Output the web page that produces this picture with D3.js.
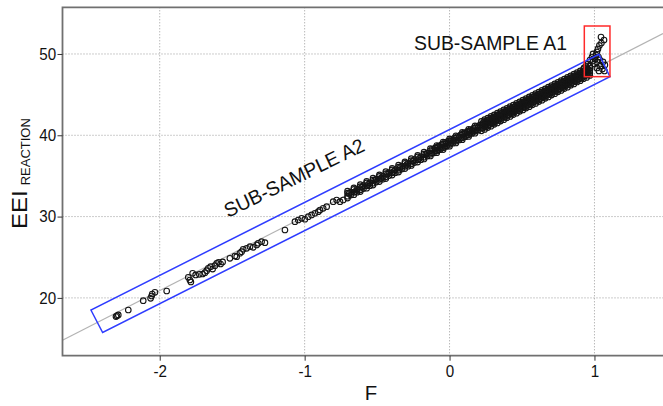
<!DOCTYPE html>
<html>
<head>
<meta charset="utf-8">
<script src="https://cdn.jsdelivr.net/npm/d3@7"></script>
<style>
  html, body { margin: 0; padding: 0; background: #fff; }
  svg { display: block; }
  text { font-family: "Liberation Sans", Arial, sans-serif; fill: #111; }
</style>
</head>
<body>
<svg id="chart" width="663" height="406"></svg>
<script>
// ---------------- data ----------------
const xTicks = [-2, -1, 0, 1];
const yTicks = [20, 30, 40, 50];
const xDomain = [-2.671, 1.473];
const yDomain = [12.89, 55.74];

// fitted reference line  EEI = intercept + slope * F
const lineIntercept = 39.1;
const lineSlope = 9.1;

// SUB-SAMPLE A2 (rotated blue box corners, [F, EEI])
const boxA2 = [[-2.475, 18.51], [-2.394, 15.74], [1.107, 47.21], [1.031, 49.96]];
// SUB-SAMPLE A1 (red box: F range, EEI range)
const boxA1F = [0.930, 1.107];
const boxA1E = [47.21, 53.44];

// sparse lower tail
const tailPoints = [
 [-2.302,17.7],[-2.295,17.8],[-2.286,17.9],[-2.217,18.51],[-2.114,19.66],[-2.063,19.95],[-2.056,20.23],
 [-2.052,20.48],[-2.033,20.69],[-1.952,20.85],[-1.803,22.53],[-1.792,22.2],[-1.785,21.96],[-1.773,23.03],
 [-1.752,22.82],[-1.727,22.9],[-1.704,22.94],[-1.688,23.1],[-1.676,23.35],[-1.665,23.64],[-1.649,23.84],
 [-1.635,23.55],[-1.619,23.96],[-1.607,24.26],[-1.594,24.38],[-1.58,24.17],[-1.566,24.42],[-1.516,24.87],
 [-1.481,25.15],[-1.469,25.07],[-1.447,25.49],[-1.435,25.68],[-1.424,25.98],[-1.4,26.1],[-1.377,26.3],
 [-1.355,26.22],[-1.331,26.51],[-1.32,26.72],[-1.297,26.91],[-1.274,26.79],[-1.136,28.35],[-1.067,29.37],
 [-1.044,29.58],[-1.021,29.79],[-0.998,29.67],[-0.975,29.99],[-0.952,30.2],[-0.929,30.41],[-0.906,30.6],
 [-0.894,30.81],[-0.872,31.02],[-0.848,31.22],[-0.803,31.83],[-0.779,32.04],[-0.756,31.83],[-0.734,32.04]
];

// medium-density part of the band
const midPoints = [
 [-0.704,32.50],[-0.704,32.88],[-0.693,32.85],[-0.682,32.64],[-0.682,33.00],[-0.660,32.98],[-0.660,33.34],
 [-0.649,33.10],[-0.638,33.00],[-0.638,33.35],[-0.616,33.30],[-0.616,33.68],[-0.605,33.62],[-0.594,33.44],
 [-0.594,33.80],[-0.572,33.78],[-0.572,34.14],[-0.561,33.95],[-0.550,33.80],[-0.550,34.15],[-0.528,34.10],
 [-0.528,34.48],[-0.517,34.45],[-0.506,34.24],[-0.506,34.60],[-0.484,34.58],[-0.484,34.94],[-0.473,34.72],
 [-0.462,34.60],[-0.462,34.95],[-0.440,34.90],[-0.440,35.28],[-0.429,35.22],[-0.418,35.04],[-0.418,35.40],
 [-0.396,35.38],[-0.396,35.74],[-0.385,35.55],[-0.374,35.40],[-0.374,35.75],[-0.352,35.70],[-0.352,36.08],
 [-0.341,36.05],[-0.330,35.84],[-0.330,36.20],[-0.308,36.18],[-0.308,36.54],[-0.297,36.35],[-0.286,36.20],
 [-0.286,36.55],[-0.264,36.50],[-0.264,36.88],[-0.253,36.82],[-0.242,36.64],[-0.242,37.00],[-0.220,36.98],
 [-0.220,37.34],[-0.209,37.15],[-0.198,37.00],[-0.198,37.35],[-0.176,37.30],[-0.176,37.68],[-0.165,37.62],
 [-0.154,37.44],[-0.154,37.80],
 [-0.704,32.28],[-0.704,33.12],[-0.660,32.70],[-0.660,33.52],[-0.616,33.08],[-0.616,33.92],[-0.572,33.50],
 [-0.572,34.32],[-0.528,33.88],[-0.528,34.72],[-0.484,34.30],[-0.484,35.12],[-0.440,34.68],[-0.440,35.52],
 [-0.396,35.10],[-0.396,35.92],[-0.352,35.48],[-0.352,36.32],[-0.308,35.90],[-0.308,36.72],[-0.264,36.28],
 [-0.264,37.12],[-0.220,36.70],[-0.220,37.52],[-0.176,37.08],[-0.176,37.92]
];

// dense part of the band (core)
const densePoints = [
 [-0.132,37.68],[-0.132,38.10],[-0.121,37.85],[-0.121,38.27],[-0.110,37.82],[-0.110,38.22],[-0.099,38.10],[-0.099,38.44],
 [-0.088,38.08],[-0.088,38.50],[-0.077,38.25],[-0.077,38.67],[-0.066,38.22],[-0.066,38.62],[-0.055,38.50],[-0.055,38.84],
 [-0.044,38.48],[-0.044,38.90],[-0.033,38.65],[-0.033,39.07],[-0.022,38.62],[-0.022,39.02],[-0.011,38.90],[-0.011,39.24],
 [0.000,38.88],[0.000,39.30],[0.011,39.05],[0.011,39.47],[0.022,39.02],[0.022,39.42],[0.033,39.30],[0.033,39.64],
 [0.044,39.28],[0.044,39.70],[0.055,39.45],[0.055,39.87],[0.066,39.42],[0.066,39.82],[0.077,39.70],[0.077,40.04],
 [0.088,39.68],[0.088,40.10],[0.099,39.85],[0.099,40.27],[0.110,39.82],[0.110,40.22],[0.121,40.10],[0.121,40.44],
 [0.132,40.08],[0.132,40.50],[0.143,40.25],[0.143,40.67],[0.154,40.22],[0.154,40.62],[0.165,40.50],[0.165,40.84],
 [0.176,40.48],[0.176,40.90],[0.187,40.65],[0.187,41.07],[0.198,40.62],[0.198,41.02],[0.209,40.90],[0.209,41.24],
 [0.220,40.88],[0.220,41.30],
 [0.231,40.90],[0.231,41.22],[0.231,41.53],[0.242,41.10],[0.242,41.42],[0.242,41.70],[0.253,41.04],[0.253,41.36],[0.253,41.67],
 [0.264,41.25],[0.264,41.58],[0.264,41.86],[0.275,41.30],[0.275,41.62],[0.275,41.93],[0.286,41.50],[0.286,41.82],[0.286,42.10],
 [0.297,41.44],[0.297,41.76],[0.297,42.07],[0.308,41.65],[0.308,41.98],[0.308,42.26],[0.319,41.70],[0.319,42.02],[0.319,42.33],
 [0.330,41.90],[0.330,42.22],[0.330,42.50],[0.341,41.84],[0.341,42.16],[0.341,42.47],[0.352,42.05],[0.352,42.38],[0.352,42.66],
 [0.363,42.10],[0.363,42.42],[0.363,42.73],[0.374,42.30],[0.374,42.62],[0.374,42.90],[0.385,42.24],[0.385,42.56],[0.385,42.87],
 [0.396,42.45],[0.396,42.78],[0.396,43.06],[0.407,42.50],[0.407,42.82],[0.407,43.13],[0.418,42.70],[0.418,43.02],[0.418,43.30],
 [0.429,42.64],[0.429,42.96],[0.429,43.27],[0.440,42.85],[0.440,43.18],[0.440,43.46],[0.451,42.90],[0.451,43.22],[0.451,43.53],
 [0.462,43.10],[0.462,43.42],[0.462,43.70],[0.473,43.04],[0.473,43.36],[0.473,43.67],[0.484,43.25],[0.484,43.58],[0.484,43.86],
 [0.495,43.30],[0.495,43.62],[0.495,43.93],[0.506,43.50],[0.506,43.82],[0.506,44.10],[0.517,43.44],[0.517,43.76],[0.517,44.07],
 [0.528,43.65],[0.528,43.98],[0.528,44.26],[0.539,43.70],[0.539,44.02],[0.539,44.33],[0.550,43.90],[0.550,44.22],[0.550,44.50],
 [0.561,43.84],[0.561,44.16],[0.561,44.47],[0.572,44.05],[0.572,44.38],[0.572,44.66],[0.583,44.10],[0.583,44.42],[0.583,44.73],
 [0.594,44.30],[0.594,44.62],[0.594,44.90],[0.605,44.24],[0.605,44.56],[0.605,44.87],[0.616,44.45],[0.616,44.78],[0.616,45.06],
 [0.627,44.50],[0.627,44.82],[0.627,45.13],[0.638,44.70],[0.638,45.02],[0.638,45.30],[0.649,44.64],[0.649,44.96],[0.649,45.27],
 [0.660,44.85],[0.660,45.18],[0.660,45.46],[0.671,44.90],[0.671,45.22],[0.671,45.53],[0.682,45.10],[0.682,45.42],[0.682,45.70],
 [0.693,45.04],[0.693,45.36],[0.693,45.67],[0.704,45.25],[0.704,45.58],[0.704,45.86],[0.715,45.30],[0.715,45.62],[0.715,45.93],
 [0.726,45.50],[0.726,45.82],[0.726,46.10],[0.737,45.44],[0.737,45.76],[0.737,46.07],[0.748,45.65],[0.748,45.98],[0.748,46.26],
 [0.759,45.70],[0.759,46.02],[0.759,46.33],[0.770,45.90],[0.770,46.22],[0.770,46.50],[0.781,45.84],[0.781,46.16],[0.781,46.47],
 [0.792,46.05],[0.792,46.38],[0.792,46.66],[0.803,46.10],[0.803,46.42],[0.803,46.73],[0.814,46.30],[0.814,46.62],[0.814,46.90],
 [0.825,46.24],[0.825,46.56],[0.825,46.87],[0.836,46.45],[0.836,46.78],[0.836,47.06],[0.847,46.50],[0.847,46.82],[0.847,47.13],
 [0.858,46.70],[0.858,47.02],[0.858,47.30],[0.869,46.64],[0.869,46.96],[0.869,47.27],[0.880,46.85],[0.880,47.18],[0.880,47.46],
 [0.891,46.90],[0.891,47.22],[0.891,47.53],[0.902,47.10],[0.902,47.42],[0.902,47.70],[0.913,47.04],[0.913,47.36],[0.913,47.67],
 [0.924,47.25],[0.924,47.58],[0.924,47.86],[0.935,47.30],[0.935,47.62],[0.935,47.93],[0.946,47.50],[0.946,47.82],[0.946,48.10],
 [0.957,47.44],[0.957,47.76],[0.957,48.07],[0.968,47.65],[0.968,47.98],[0.968,48.26],
 [0.928,48.28],[0.941,48.52],[0.955,48.77],[0.969,49.26],[0.983,49.63],[0.990,50.00]
];

// dense part of the band (outer edges)
const edgePoints = [
 [-0.132,37.45],[-0.132,38.35],[-0.088,37.86],[-0.088,38.74],[-0.044,38.24],[-0.044,39.15],[0.000,38.66],[0.000,39.55],
 [0.044,39.05],[0.044,39.94],[0.088,39.46],[0.088,40.35],[0.132,39.85],[0.132,40.74],[0.176,40.26],[0.176,41.15],
 [0.220,40.55],[0.220,41.70],[0.242,40.72],[0.242,41.92],[0.264,40.95],[0.264,42.10],[0.286,41.12],[0.286,42.32],
 [0.308,41.35],[0.308,42.50],[0.330,41.52],[0.330,42.72],[0.352,41.75],[0.352,42.90],[0.374,41.92],[0.374,43.12],
 [0.396,42.15],[0.396,43.30],[0.418,42.32],[0.418,43.52],[0.440,42.55],[0.440,43.70],[0.462,42.72],[0.462,43.92],
 [0.484,42.95],[0.484,44.10],[0.506,43.12],[0.506,44.32],[0.528,43.35],[0.528,44.50],[0.550,43.52],[0.550,44.72],
 [0.572,43.75],[0.572,44.90],[0.594,43.92],[0.594,45.12],[0.616,44.15],[0.616,45.30],[0.638,44.32],[0.638,45.52],
 [0.660,44.55],[0.660,45.70],[0.682,44.72],[0.682,45.92],[0.704,44.95],[0.704,46.10],[0.726,45.12],[0.726,46.32],
 [0.748,45.35],[0.748,46.50],[0.770,45.52],[0.770,46.72],[0.792,45.75],[0.792,46.90],[0.814,45.92],[0.814,47.12],
 [0.836,46.15],[0.836,47.30],[0.858,46.32],[0.858,47.52],[0.880,46.55],[0.880,47.70],[0.902,46.72],[0.902,47.92],
 [0.924,46.95],[0.924,48.10],[0.946,47.12],[0.946,48.32],[0.968,47.35],[0.968,48.50]
];

// SUB-SAMPLE A1 points
const a1Points = [
 [1.045,52.09],[1.066,51.72],[1.048,51.35],[1.034,51.05],[1.024,50.62],[1.017,50.25],[1.010,49.88],
 [1.028,49.63],[1.003,49.45],[1.038,49.26],[1.059,49.02],[1.017,49.02],[1.072,48.65],[1.041,48.52],
 [1.055,48.15],[1.017,48.28],[1.000,48.77],[1.031,47.91],[0.990,49.14],[1.069,47.91]
];

const labelA1 = "SUB-SAMPLE A1";
const labelA2 = "SUB-SAMPLE A2";
const xTitle = "F";
const yTitleMain = "EEI";
const yTitleSub = "REACTION";

// ---------------- drawing ----------------
const svg = d3.select("#chart");
const pL = 62.5, pR = 663, pT = 7.3, pB = 355.7;
const sx = 0.97; // slight horizontal squeeze of the reference glyphs

const x = d3.scaleLinear().domain(xDomain).range([pL, pR]);
const y = d3.scaleLinear().domain(yDomain).range([pB, pT]);

svg.append("rect").attr("width", 663).attr("height", 406).attr("fill", "#fff");

svg.append("defs").append("clipPath").attr("id", "clip")
  .append("rect").attr("x", pL).attr("y", pT).attr("width", pR - pL + 5).attr("height", pB - pT);

// gridlines
const grid = svg.append("g");
grid.selectAll("line.gx").data(xTicks).join("line").attr("class", "gx")
  .attr("x1", d => x(d)).attr("x2", d => x(d)).attr("y1", pT).attr("y2", pB)
  .attr("stroke", "#9a9a9a").attr("stroke-width", 1).attr("stroke-dasharray", "1,2");
grid.selectAll("line.gy").data(yTicks).join("line").attr("class", "gy")
  .attr("y1", d => y(d)).attr("y2", d => y(d)).attr("x1", pL).attr("x2", pR + 5)
  .attr("stroke", "#9a9a9a").attr("stroke-width", 1).attr("stroke-dasharray", "1,2");

const plot = svg.append("g").attr("clip-path", "url(#clip)");

// fitted line
plot.append("line")
  .attr("x1", x(xDomain[0])).attr("y1", y(lineIntercept + lineSlope * xDomain[0]))
  .attr("x2", x(xDomain[1])).attr("y2", y(lineIntercept + lineSlope * xDomain[1]))
  .attr("stroke", "#b3b3b3").attr("stroke-width", 1.2);

// points
const allPts = tailPoints.concat(midPoints, densePoints, edgePoints, a1Points);
plot.append("g").selectAll("circle").data(allPts).join("circle")
  .attr("cx", d => x(d[0])).attr("cy", d => y(d[1])).attr("r", 2.8)
  .attr("fill", "none").attr("stroke", "#151515").attr("stroke-width", 1.1);

// boxes
plot.append("path")
  .attr("d", d3.line().x(d => x(d[0])).y(d => y(d[1]))(boxA2) + "Z")
  .attr("fill", "none").attr("stroke", "#2f3dff").attr("stroke-width", 1.5);
plot.append("rect")
  .attr("x", x(boxA1F[0])).attr("y", y(boxA1E[1]))
  .attr("width", x(boxA1F[1]) - x(boxA1F[0])).attr("height", y(boxA1E[0]) - y(boxA1E[1]))
  .attr("fill", "none").attr("stroke", "#ff2a2a").attr("stroke-width", 1.5);

// frame
svg.append("path")
  .attr("d", `M${pR + 10},${pT}H${pL}V${pB}H${pR + 10}`)
  .attr("fill", "none").attr("stroke", "#707070").attr("stroke-width", 1.8);

// axes
const xAxis = svg.append("g").attr("transform", `translate(0,${pB})`)
  .call(d3.axisBottom(x).tickValues(xTicks).tickSize(5).tickPadding(4.5));
const yAxis = svg.append("g").attr("transform", `translate(${pL},0)`)
  .call(d3.axisLeft(y).tickValues(yTicks).tickSize(5).tickPadding(2));
[xAxis, yAxis].forEach(a => {
  a.select(".domain").remove();
  a.selectAll(".tick line").attr("stroke", "#333").attr("stroke-width", 1);
  a.selectAll(".tick text").attr("font-size", 16.5).attr("fill", "#111")
    .attr("font-family", "'Liberation Sans', Arial, sans-serif")
    .text(d => d < 0 ? "-" + Math.abs(d) : String(d))
    .attr("transform", `scale(0.92,1)`);
});

// annotations
svg.append("text").attr("transform", `translate(414,50) scale(${sx},1)`)
  .attr("font-size", 20).text(labelA1);
svg.append("text").attr("transform", `translate(228,218) scale(${sx},1) rotate(-25.5)`)
  .attr("font-size", 20).text(labelA2);

// axis titles
svg.append("text").attr("transform", `translate(371,400) scale(${sx},1)`)
  .attr("text-anchor", "middle").attr("font-size", 21).text(xTitle);
const yt = svg.append("text").attr("transform", `translate(27,229) scale(0.92,1) rotate(-90)`);
yt.append("tspan").attr("font-size", 24).text(yTitleMain);
yt.append("tspan").attr("font-size", 13).attr("dx", 5).attr("dy", 3).text(yTitleSub);
</script>
</body>
</html>
